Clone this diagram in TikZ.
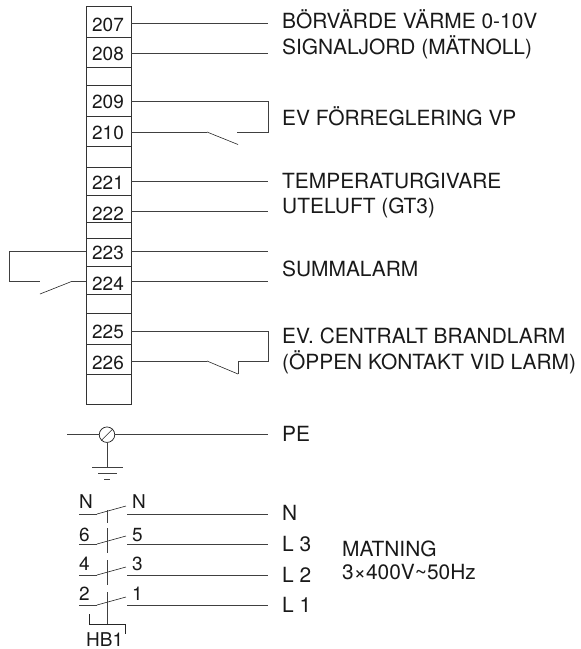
\documentclass[tikz,border=0pt]{standalone}
\usepackage{fontspec}
\setmainfont{TeX Gyre Heros}
\begin{document}
\begin{tikzpicture}[x=1pt,y=-1pt,
  wire/.style={line width=0.75pt,draw=black!75},
  thin wire/.style={line width=0.6pt,draw=black!85},
  lbl/.style={anchor=base west,inner sep=0,font=\fontsize{20.9}{23}\selectfont,text=black!90},
  num/.style={anchor=base,inner sep=0,font=\fontsize{19}{21}\selectfont,text=black!90},
  sw/.style={anchor=base west,inner sep=0,font=\fontsize{19}{21}\selectfont,text=black!90},
  cell/.style={draw=black!80,line width=0.75pt}]
\useasboundingbox (0,0) rectangle (581,649);
% terminal strip
\draw[cell] (86,6.5) rectangle (131,404.7);
\foreach \y in {37,67,85.7,116,146,167,195,222.7,238.7,266.7,294.7,313.3,344,374.3}
  \draw[cell] (86,\y) -- (131,\y);
\foreach \t/\y in {207/31,208/60,209/108,210/139,221/189,222/220,223/259,224/290,225/338,226/369}
  \node[num] (t\t) at (108,\y) {\t};
% ends of the wires on the strip
\foreach \t/\y in {207/23,208/53,209/101,210/132,221/181,222/211,223/251.7,224/281.7,225/331,226/361}{
  \coordinate (r\t) at (131,\y);
  \coordinate (l\t) at (86,\y);
  \coordinate (e\t) at (268,\y);
}
\draw[wire] (r207) -- (e207);
\draw[wire] (r208) -- (e208);
\draw[wire] (r221) -- (e221);
\draw[wire] (r222) -- (e222);
\draw[wire] (r223) -- (e223);
\draw[wire] (r224) -- (e224);
% 209/210 contact
\coordinate (a1) at (207,132); \coordinate (a2) at (238,144.5); \coordinate (a3) at (237,132);
\draw[wire] (r209) -- (e209) -- (e210) -- (a3);
\draw[wire] (r210) -- (a1);
\draw[thin wire] (a1) -- (a2);
% 223/224 contact
\coordinate (b0) at (9,251.7); \coordinate (b1) at (9,281.7); \coordinate (b2) at (40,281.7);
\coordinate (b3) at (40,294); \coordinate (b4) at (71,281.7);
\draw[wire] (l223) -- (b0) -- (b1) -- (b2);
\draw[thin wire] (b3) -- (b4);
\draw[wire] (b4) -- (l224);
% 225/226 contact
\coordinate (c1) at (207,361); \coordinate (c2) at (238,374); \coordinate (c3) at (238,361);
\draw[wire] (r225) -- (e225) -- (e226) -- (c3) -- (c2);
\draw[wire] (r226) -- (c1);
\draw[thin wire] (c1) -- (c2);
% PE
\coordinate (pl) at (67,434.7); \coordinate (pr) at (268,434.7);
\node[draw=black!85,line width=0.75pt,circle,minimum size=15.5pt,inner sep=0] (pc) at (107,434.7) {};
\draw[wire] (pl) -- (pc.west);
\draw[wire] (pc.east) -- (pr);
\draw[thin wire] (pc.south west) -- (pc.north east);
\coordinate (g0) at (107,467);
\draw[wire] (pc.south) -- (g0);
\draw[wire] (92,467) -- (123,467);
\draw[wire] (98,473) -- (117,473);
\draw[wire] (104,479) -- (110,479);
% main switch
\foreach \n/\y in {n/514,s/544,f/575,o/605}{
  \coordinate (\n1) at (79,\y);
  \coordinate (\n2) at (97,\y);
  \coordinate (\n3) at (126,\y-8);
  \coordinate (\n4) at (127,\y);
  \coordinate (\n5) at (268,\y);
  \draw[wire] (\n1) -- (\n2);
  \draw[thin wire] (\n2) -- (\n3);
  \draw[wire] (\n4) -- (\n5);
}
\draw[wire] (107,510) -- (107,523) (107,528) -- (107,553) (107,560) -- (107,585) (107,592) -- (107,624);
\draw[thin wire] (89,614) -- (89,624) -- (125,624) -- (125,634);
\node[sw] (qn1) at (79,508) {N};
\node[sw] (qn2) at (132,508) {N};
\node[sw] (q6) at (79,541) {6};
\node[sw] (q5) at (132,541) {5};
\node[sw] (q4) at (79,570) {4};
\node[sw] (q3) at (132,570) {3};
\node[sw] (q2) at (79,600) {2};
\node[sw] (q1) at (132,600) {1};
\node[sw] (hb) at (86,646) {HB1};
% right labels
\node[lbl] (x1) at (282,28) {BÖRVÄRDE VÄRME 0-10V};
\node[lbl] (x2) at (282,54) {SIGNALJORD (MÄTNOLL)};
\node[lbl] (x3) at (282,125) {EV FÖRREGLERING VP};
\node[lbl] (x4) at (282,188) {TEMPERATURGIVARE};
\node[lbl] (x5) at (282,213) {UTELUFT (GT3)};
\node[lbl] (x6) at (282,276) {SUMMALARM};
\node[lbl] (x7) at (282,343) {EV. CENTRALT BRANDLARM};
\node[lbl] (x8) at (282,369) {(ÖPPEN KONTAKT VID LARM)};
\node[lbl] (x9) at (282,441) {PE};
\node[lbl] (x10) at (282,520) {N};
\node[lbl] (x11) at (282,551) {L 3};
\node[lbl] (x12) at (282,582) {L 2};
\node[lbl] (x13) at (282,612) {L 1};
\node[lbl] (x14) at (342,556) {MATNING};
\node[lbl] (x15) at (342,579) {3×400V\textasciitilde 50Hz};
\end{tikzpicture}
\end{document}
